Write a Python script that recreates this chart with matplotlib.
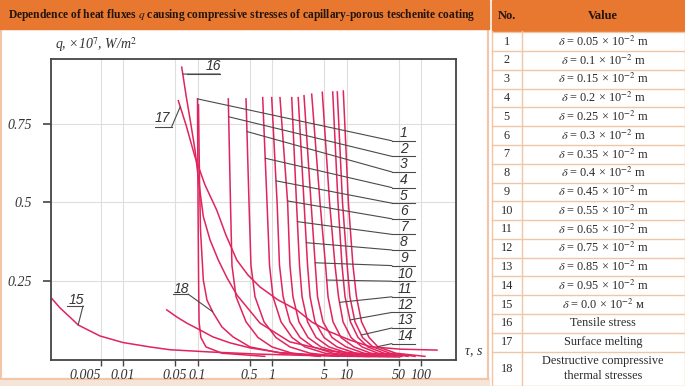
import numpy as np
import matplotlib.pyplot as plt
from matplotlib.patches import Rectangle
from matplotlib.lines import Line2D

plt.rcParams['font.family'] = ['Liberation Serif', 'DejaVu Serif']
plt.rcParams['mathtext.fontset'] = 'stix'

W, H = 685, 386
ORANGE = '#e8772f'
PEACH = '#f1c6a6'
BEIGE = '#f5e5d9'
RED = '#e0245e'
LEAD = '#4a4a4a'

# ---- chart data (tau in s, q in 1e7 W/m2) ----
xticks = [0.005, 0.01, 0.05, 0.1, 0.5, 1, 5, 10, 50, 100]
xtick_labels = ['0.005', '0.01', '0.05', '0.1', '0.5', '1', '5', '10', '50', '100']
yticks = [0.25, 0.5, 0.75]
ytick_labels = ['0.25', '0.5', '0.75']

# curves 1-14: top point, then tau at which q falls to each level
q_top = [0.830, 0.830, 0.830, 0.834, 0.834, 0.834, 0.834, 0.834, 0.840, 0.845, 0.851, 0.852, 0.852, 0.855]
tau_top = [0.100, 0.259, 0.448, 0.750, 0.991, 1.28, 1.84, 2.25, 2.69, 3.41, 4.73, 6.53, 7.52, 9.06]
q_levels = [0.5, 0.3, 0.2, 0.12, 0.07, 0.04, 0.02, 0.01]
tau_levels = [
    [0.1016, 0.103, 0.104, 0.105, 0.111, 0.130, 0.213, 0.80],
    [0.277, 0.290, 0.329, 0.448, 0.649, 1.0, 1.86, 4.41],
    [0.491, 0.522, 0.591, 0.781, 1.13, 1.74, 3.24, 7.69],
    [0.857, 0.926, 1.03, 1.32, 1.86, 2.77, 5.15, 11.1],
    [1.17, 1.26, 1.41, 1.74, 2.38, 3.55, 6.59, 14.3],
    [1.62, 1.74, 1.91, 2.30, 3.04, 4.55, 8.44, 18.3],
    [2.13, 2.34, 2.53, 3.00, 3.90, 5.82, 10.5, 22.7],
    [2.69, 3.00, 3.24, 3.78, 4.99, 7.46, 13.4, 28.2],
    [3.34, 3.81, 4.08, 4.84, 6.39, 9.85, 17.2, 36.1],
    [4.41, 5.23, 5.65, 6.59, 8.44, 12.6, 21.3, 44.8],
    [5.92, 7.01, 7.81, 8.98, 11.5, 16.2, 26.5, 55.6],
    [7.69, 8.70, 9.55, 11.3, 14.3, 19.4, 31.9, 66.9],
    [8.84, 10.2, 11.1, 13.0, 16.4, 22.7, 38.4, 83.1],
    [10.6, 12.2, 13.6, 15.9, 20.1, 26.5, 46.2, 113],
]
# q where the leader of each numbered curve touches it
q_lead = [0.830, 0.773, 0.726, 0.641, 0.569, 0.505, 0.439, 0.372, 0.308, 0.253, 0.182, 0.126, 0.078, 0.041]

tau_15 = [0.0011, 0.00143, 0.00194, 0.0025, 0.0036, 0.0049, 0.01, 0.023, 0.043, 0.147, 0.69, 6.0, 52]
q_15 = [0.195, 0.164, 0.135, 0.110, 0.091, 0.075, 0.054, 0.040, 0.031, 0.024, 0.017, 0.011, 0.008]

tau_16 = [0.0614, 0.0701, 0.0818, 0.0926, 0.1031, 0.1197, 0.1472, 0.190, 0.249, 0.339, 0.690, 1.74, 6.0, 28.2]
q_16 = [0.931, 0.842, 0.747, 0.667, 0.572, 0.455, 0.381, 0.317, 0.260, 0.205, 0.116, 0.056, 0.027, 0.014]

tau_17 = [0.0553, 0.0701, 0.0926, 0.126, 0.181, 0.241, 0.336, 0.476, 0.690, 1.20, 2.15, 3.44, 6.0, 11.1, 20.7, 52, 164]
q_17 = [0.824, 0.747, 0.645, 0.556, 0.476, 0.396, 0.317, 0.269, 0.231, 0.19, 0.158, 0.119, 0.088, 0.062, 0.041, 0.033, 0.030]

tau_18 = [0.1031, 0.1064, 0.1097, 0.1197, 0.134, 0.163, 0.213, 0.300, 0.507, 1.28, 4.41]
q_18 = [0.811, 0.572, 0.412, 0.253, 0.189, 0.148, 0.1035, 0.072, 0.040, 0.021, 0.011]

tau_low = [0.0386, 0.0531, 0.0716, 0.108, 0.161, 0.273, 0.507, 1.28, 4.41, 20.7]
q_low = [0.158, 0.135, 0.116, 0.094, 0.072, 0.053, 0.037, 0.022, 0.014, 0.0096]

# ---- table data ----
deltas = ['0.05', '0.1', '0.15', '0.2', '0.25', '0.3', '0.35', '0.4', '0.45',
          '0.55', '0.65', '0.75', '0.85', '0.95', '0.0']
units = ['m'] * 14 + ['м']
extra_rows = ['Tensile stress', 'Surface melting', 'Destructive compressive\nthermal stresses']


def fx(px):
    return px / W


def fy(py):
    return 1 - py / H


fig = plt.figure(figsize=(W / 100, H / 100), dpi=100)

# frame of the left panel
fig.add_artist(Rectangle((fx(0), fy(386)), fx(489), 8 / H, transform=fig.transFigure,
                         color=BEIGE, zorder=0))
fig.add_artist(Rectangle((fx(1), fy(379)), fx(487), 350 / H, transform=fig.transFigure,
                         fill=False, ec=PEACH, lw=1.5, zorder=0))
fig.add_artist(Rectangle((fx(0), fy(29)), fx(489), 29 / H, transform=fig.transFigure,
                         color=ORANGE, zorder=1))
fig.text(fx(8), fy(15), 'Dependence of heat fluxes $q$ causing compressive stresses of '
         'capillary-porous teschenite coating', fontsize=8.3, fontweight='bold',
         color='#24150e', va='center', ha='left')

# ---- chart ----
AX_L, AX_R, AX_T, AX_B = 51, 456, 59, 359.5
ax = fig.add_axes([fx(AX_L), fy(AX_B), (AX_R - AX_L) / W, (AX_B - AX_T) / H])
ax.set_xscale('log')
ax.set_xlim(0.00108, 295)
ax.set_ylim(0, 0.957)
ax.set_xticks(xticks)
ax.set_xticklabels(xtick_labels)
ax.xaxis.set_minor_locator(plt.NullLocator())
ax.set_yticks(yticks)
ax.set_yticklabels(ytick_labels)
ax.grid(True, color='#dedede', lw=0.8)
ax.set_axisbelow(True)
for s in ax.spines.values():
    s.set_color('#444444')
    s.set_linewidth(1.3)
ax.tick_params(axis='y', direction='out', length=6, width=1.2, color='#444444',
               labelsize=10, pad=8)
ax.tick_params(axis='x', direction='out', length=4, width=1.0, color='#444444',
               labelsize=10, pad=3)
for lab in ax.get_xticklabels() + ax.get_yticklabels():
    lab.set_fontstyle('italic')
    lab.set_color('#333333')
ax.get_xticklabels()[0].set_horizontalalignment('right')

for k in range(14):
    ax.plot([tau_top[k]] + tau_levels[k], [q_top[k]] + q_levels, color=RED, lw=1.1)
ax.plot(tau_15, q_15, color=RED, lw=1.1)
ax.plot(tau_16, q_16, color=RED, lw=1.1)
ax.plot(tau_17, q_17, color=RED, lw=1.1)
ax.plot(tau_18, q_18, color=RED, lw=1.1)
ax.plot(tau_low, q_low, color=RED, lw=1.1)


def on_curve(taus, qs, q):
    qs = np.asarray(qs)[::-1]
    lt = np.log10(np.asarray(taus))[::-1]
    return 10 ** np.interp(q, qs, lt), q


def ax_pt(px, py):
    return (px - AX_L) / (AX_R - AX_L), (AX_B - py) / (AX_B - AX_T)


def leader(pt, px0, px1, py, label, tx, ty):
    # line from curve point to the start of the underline, underline, number
    ax.annotate('', xy=pt, xycoords='data', xytext=ax_pt(px0, py), textcoords='axes fraction',
                arrowprops=dict(arrowstyle='-', color=LEAD, lw=0.8, shrinkA=0, shrinkB=0))
    a0, b0 = ax_pt(px0, py)
    a1, _ = ax_pt(px1, py)
    ax.plot([a0, a1], [b0, b0], transform=ax.transAxes, color=LEAD, lw=0.8, clip_on=False)
    tx_, ty_ = ax_pt(tx, ty)
    ax.text(tx_, ty_, label, transform=ax.transAxes, fontsize=10, style='italic',
            family='Liberation Sans', color='#333333', ha='center', va='center')


for k in range(14):
    pt = on_curve([tau_top[k]] + tau_levels[k], [q_top[k]] + q_levels, q_lead[k])
    ly = 133.3 + 15.6 * k
    leader(pt, 392, 415, ly + 7.5, str(k + 1), 404 if k < 9 else 405, ly)

leader(on_curve(tau_15, q_15, 0.110), 83, 67, 306, '15', 76, 300)
leader(on_curve(tau_16, q_16, 0.909), 220, 220, 74, '16', 213.5, 66)
ax.plot(*zip(ax_pt(187, 74), ax_pt(220, 74)), transform=ax.transAxes, color=LEAD, lw=0.8)
leader(on_curve(tau_17, q_17, 0.805), 171.7, 155, 126.7, '17', 162.5, 118)
leader(on_curve(tau_18, q_18, 0.152), 188, 173, 294, '18', 181.5, 289)

fig.text(fx(55), fy(45), 'q, ×10$^7$, W/m$^2$', fontsize=10, style='italic',
         color='#333333', ha='left', va='center')
fig.text(fx(465), fy(351), 'τ, s', fontsize=10, style='italic', color='#333333',
         ha='left', va='center')

# ---- table ----
T_L, T_C, T_R = 491.5, 521.7, 684.5
fig.add_artist(Rectangle((fx(T_L), fy(30.5)), (T_R - T_L) / W, 30.5 / H,
                         transform=fig.transFigure, color=ORANGE, zorder=1))
fig.text(fx((T_L + T_C) / 2), fy(16), 'No.', fontsize=9, fontweight='bold',
         color='#24150e', ha='center', va='center')
fig.text(fx((T_C + T_R) / 2), fy(16), 'Value', fontsize=9, fontweight='bold',
         color='#24150e', ha='center', va='center')

values = [r'$\delta$ = ' + d + r' × 10$^{-2}$ ' + u for d, u in zip(deltas, units)] + extra_rows
ROW0, ROWH = 32.3, 18.78
edges = [ROW0 + ROWH * i for i in range(18)] + [385.5]
for y in edges:
    fig.add_artist(Line2D([fx(T_L), fx(T_R)], [fy(y), fy(y)], transform=fig.transFigure,
                          color=PEACH, lw=1))
for x in (T_L, T_C, T_R):
    fig.add_artist(Line2D([fx(x), fx(x)], [fy(30.5), fy(385.5)], transform=fig.transFigure,
                          color=PEACH, lw=1))
for i, v in enumerate(values):
    yc = (edges[i] + edges[i + 1]) / 2
    fig.text(fx((T_L + T_C) / 2), fy(yc), str(i + 1), fontsize=8.8, color='#2a2a2a',
             ha='center', va='center')
    fig.text(fx((T_C + T_R) / 2), fy(yc), v, fontsize=8.8, color='#2a2a2a',
             ha='center', va='center', linespacing=1.25)

fig.savefig('out.png', dpi=100)
